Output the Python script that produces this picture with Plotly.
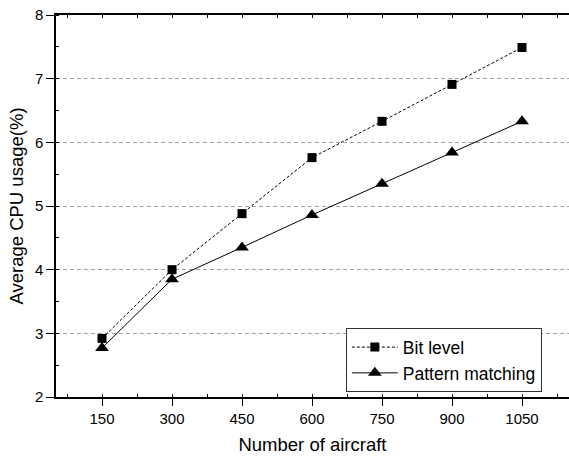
import plotly.graph_objects as go

aircraft = [150, 300, 450, 600, 750, 900, 1050]
bit_level = [2.92, 4.00, 4.88, 5.76, 6.33, 6.91, 7.49]
pattern_matching = [2.77, 3.85, 4.35, 4.86, 5.35, 5.84, 6.33]
x_ticks = [150, 300, 450, 600, 750, 900, 1050]
y_ticks = [2, 3, 4, 5, 6, 7, 8]

FONT = "Liberation Sans, Arial, sans-serif"
XR = [51.4, 1150.7]

fig = go.Figure()
fig.add_trace(go.Scatter(
    x=aircraft, y=bit_level, name="Bit level", mode="lines+markers",
    line=dict(color="black", width=1, dash="3px,2px"),
    marker=dict(symbol="square", size=9, color="black"),
))
fig.add_trace(go.Scatter(
    x=aircraft, y=pattern_matching, name="Pattern matching", mode="lines+markers",
    line=dict(color="black", width=1),
    marker=dict(symbol="triangle-up", size=12, color="black"),
))
# top axis (inside ticks)
fig.add_trace(go.Scatter(x=[None], y=[None], xaxis="x2", showlegend=False))

fig.update_layout(
    width=569, height=458,
    margin=dict(l=56, r=0, t=15, b=61, autoexpand=False),
    paper_bgcolor="white", plot_bgcolor="white",
    font=dict(family=FONT, color="black"),
    xaxis=dict(
        range=XR, tickvals=x_ticks, ticks="outside", ticklen=7, tickwidth=1,
        tickcolor="black", showline=True, linecolor="black", linewidth=1.5,
        showgrid=False, zeroline=False, tickfont=dict(size=15),
        automargin=False,
        minor=dict(dtick=75, tick0=0, ticks="inside", ticklen=3, tickcolor="black", showgrid=False),
        title=dict(text="Number of aircraft", font=dict(size=18.5), standoff=12),
    ),
    xaxis2=dict(
        range=XR, overlaying="x", side="top", showline=True, linecolor="black",
        linewidth=1.5, ticks="inside", ticklen=3, tickcolor="black", automargin=False,
        dtick=75, tick0=0, showticklabels=False, showgrid=False, zeroline=False,
    ),
    yaxis=dict(
        range=[2, 8], tickvals=y_ticks, ticks="outside", ticklen=8, tickwidth=1,
        tickcolor="black", showline=True, linecolor="black", linewidth=1.5,
        showgrid=True, gridcolor="#a0a0a0", griddash="4px,3px", gridwidth=1,
        zeroline=False, tickfont=dict(size=15), automargin=False,
        minor=dict(dtick=0.5, tick0=0, ticks="inside", ticklen=3, tickcolor="black", showgrid=False),
        title=dict(text="Average CPU usage(%)", font=dict(size=18.5), standoff=6),
    ),
    legend=dict(
        x=0.565, y=0.18, xanchor="left", yanchor="top",
        bordercolor="#333333", borderwidth=1, bgcolor="white",
        font=dict(size=17.5), tracegroupgap=0, itemwidth=46,
    ),
)

fig.write_html("out.html")
